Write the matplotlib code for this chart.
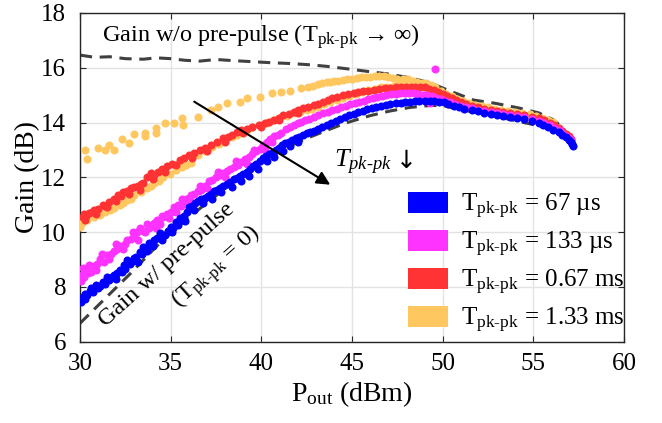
import matplotlib.pyplot as plt
from matplotlib.patches import Patch

plt.rcParams['font.family'] = ['Liberation Serif', 'DejaVu Serif']
plt.rcParams['mathtext.fontset'] = 'custom'
plt.rcParams['mathtext.rm'] = 'Liberation Serif'
plt.rcParams['mathtext.it'] = 'Liberation Serif:italic'
plt.rcParams['mathtext.bf'] = 'Liberation Serif:bold'

# --- gain without pre-pulse (upper dashed) ---
p_nopre = [30.0, 30.8, 31.65, 32.5, 33.5, 34.2, 35.0, 35.8, 36.6, 37.5, 38.4, 39.5,
           40.6, 41.7, 42.8, 43.6, 44.6, 45.8, 47.0, 48.2, 49.3, 50.4, 51.7, 52.9,
           54.2, 55.3, 56.1, 56.6, 57.0, 57.2]
g_nopre = [16.46, 16.38, 16.40, 16.33, 16.31, 16.36, 16.33, 16.27, 16.24, 16.30, 16.26, 16.22,
           16.18, 16.15, 16.10, 16.05, 15.97, 15.87, 15.77, 15.63, 15.45, 15.15, 14.82, 14.70,
           14.53, 14.35, 14.10, 13.82, 13.45, 13.20]

# --- gain with pre-pulse (lower dashed) ---
p_pre = [30.0, 31.3, 32.8, 34.2, 35.7, 37.2, 38.6, 39.9, 41.4, 42.8, 44.6, 46.0,
         47.1, 48.2, 49.3, 50.0, 51.0, 52.1, 53.3, 54.6, 55.8, 56.5, 56.9, 57.1]
g_pre = [6.67, 7.52, 8.50, 9.47, 10.38, 11.17, 11.90, 12.50, 13.10, 13.50, 13.97, 14.25,
         14.42, 14.55, 14.62, 14.62, 14.46, 14.35, 14.17, 13.98, 13.82, 13.64, 13.36, 13.15]

# --- measured points, Tpk-pk = 67 us ---
p_67us = [30.05, 30.1, 30.16, 30.3, 30.4, 30.55, 30.7, 30.9, 31.0, 31.25, 31.4, 31.6,
          31.75, 31.9, 32.05, 32.2, 32.3, 32.45, 32.6, 32.75, 32.9, 33.1, 33.3, 33.4,
          33.5, 33.65, 33.8, 33.95, 34.1, 34.25, 34.4, 34.55, 34.7, 34.85, 35.0, 35.15,
          35.3, 35.5, 35.6, 35.75, 35.9, 36.0, 36.2, 36.35, 36.5, 36.7, 36.9, 37.05,
          37.2, 37.4, 37.55, 37.7, 37.9, 38.1, 38.3, 38.5, 38.65, 38.8, 39.0, 39.2,
          39.4, 39.55, 39.7, 39.9, 40.1, 40.25, 40.45, 40.6, 40.8, 41.0, 41.15, 41.3,
          41.5, 41.7, 41.9, 42.1, 42.3, 42.5, 42.7, 42.9, 43.1, 43.35, 43.6, 43.85,
          44.1, 44.35, 44.6, 44.85, 45.1, 45.35, 45.6, 45.85, 46.1, 46.35, 46.6, 46.85,
          47.1, 47.4, 47.7, 47.95, 48.2, 48.45, 48.7, 49.0, 49.3, 49.55, 49.8, 50.05,
          50.3, 50.6, 50.9, 51.2, 51.6, 51.95, 52.3, 52.65, 53.0, 53.35, 53.7, 54.1,
          54.5, 54.9, 55.3, 55.55, 55.8, 56.1, 56.4, 56.6, 56.8, 56.95, 57.05, 57.15,
          57.2,
          30.3, 30.6, 31.1, 31.5, 32.0, 32.5, 33.0, 33.2, 33.7, 34.0, 34.5, 35.1,
          35.4, 35.8, 36.3, 36.8, 37.3, 37.8, 38.4, 38.9, 39.3, 39.8, 40.3, 40.7,
          41.2, 41.6, 42.0]
g_67us = [7.44, 7.55, 7.62, 7.75, 7.69, 7.85, 7.80, 8.06, 7.95, 8.17, 8.10, 8.24,
          8.35, 8.42, 8.50, 8.60, 8.55, 8.79, 8.97, 8.85, 8.95, 9.10, 9.27, 9.20,
          9.45, 9.40, 9.60, 9.55, 9.71, 9.80, 9.96, 9.85, 9.89, 10.05, 10.19, 10.15,
          10.36, 10.53, 10.45, 10.60, 10.75, 10.90, 10.95, 11.05, 11.15, 11.20, 11.25, 11.30,
          11.40, 11.50, 11.55, 11.60, 11.70, 11.75, 11.82, 11.92, 11.98, 12.05, 12.12, 12.20,
          12.32, 12.40, 12.48, 12.60, 12.72, 12.78, 12.85, 12.90, 13.00, 13.08, 13.18, 13.25,
          13.30, 13.36, 13.42, 13.48, 13.55, 13.60, 13.64, 13.70, 13.76, 13.84, 13.92, 14.00,
          14.06, 14.12, 14.19, 14.26, 14.32, 14.38, 14.43, 14.48, 14.53, 14.57, 14.60, 14.64,
          14.67, 14.70, 14.72, 14.74, 14.76, 14.77, 14.78, 14.79, 14.79, 14.78, 14.76, 14.73,
          14.68, 14.62, 14.56, 14.51, 14.46, 14.41, 14.36, 14.32, 14.28, 14.24, 14.20, 14.16,
          14.12, 14.05, 13.97, 13.90, 13.83, 13.74, 13.64, 13.55, 13.46, 13.37, 13.28, 13.20,
          13.15,
          7.55, 7.95, 8.05, 8.35, 8.30, 8.65, 9.05, 8.90, 9.30, 9.50, 9.70, 10.00,
          10.25, 10.40, 10.80, 11.05, 11.20, 11.45, 11.65, 11.85, 12.05, 12.30, 12.60, 12.75,
          12.95, 13.15, 13.30]

# --- measured points, Tpk-pk = 133 us ---
p_133us = [30.05, 30.1, 30.2, 30.3, 30.45, 30.6, 30.8, 30.95, 31.1, 31.3, 31.5, 31.7,
           31.9, 32.05, 32.2, 32.4, 32.6, 32.8, 33.0, 33.15, 33.3, 33.45, 33.6, 33.8,
           33.95, 34.1, 34.25, 34.4, 34.6, 34.8, 35.0, 35.2, 35.4, 35.55, 35.7, 35.85,
           36.0, 36.15, 36.3, 36.5, 36.7, 36.9, 37.1, 37.3, 37.5, 37.7, 37.9, 38.1,
           38.3, 38.5, 38.7, 38.9, 39.1, 39.3, 39.5, 39.7, 39.9, 40.1, 40.3, 40.5,
           40.7, 40.9, 41.1, 41.35, 41.6, 41.8, 42.0, 42.2, 42.4, 42.65, 42.9, 43.15,
           43.4, 43.65, 43.9, 44.15, 44.4, 44.65, 44.9, 45.15, 45.4, 45.65, 45.9, 46.15,
           46.4, 46.65, 46.9, 47.15, 47.4, 47.65, 47.9, 48.15, 48.4, 48.65, 48.9, 49.15,
           49.4, 49.65, 49.9, 50.15, 50.4, 50.7, 51.0, 51.3, 51.6, 51.95, 52.3, 52.65,
           53.0, 53.35, 53.7, 54.1, 54.5, 54.9, 55.3, 55.6, 55.9, 56.15, 56.4, 56.6,
           56.8, 56.95, 57.1, 49.6, 49.3,
           30.15, 30.5, 30.9, 31.2, 31.6, 32.0, 32.5, 32.9, 33.2, 33.7, 34.2, 34.5,
           34.9, 35.3, 35.6, 36.1, 36.6, 37.0, 37.6, 38.0, 38.6, 39.2, 39.6, 40.2,
           40.6]
g_133us = [8.20, 8.45, 8.35, 8.60, 8.50, 8.55, 8.75, 8.85, 9.00, 8.90, 9.15, 9.20,
           9.30, 9.40, 9.50, 9.40, 9.70, 9.75, 9.85, 10.00, 10.15, 10.05, 10.00, 10.15,
           10.25, 10.35, 10.45, 10.30, 10.55, 10.65, 10.75, 10.90, 11.00, 10.95, 11.10, 11.20,
           11.25, 11.35, 11.40, 11.50, 11.55, 11.70, 11.85, 11.90, 12.00, 12.08, 12.15, 12.22,
           12.30, 12.38, 12.45, 12.55, 12.65, 12.75, 12.85, 12.95, 13.05, 13.18, 13.30, 13.40,
           13.50, 13.56, 13.62, 13.75, 13.85, 13.92, 13.98, 14.03, 14.08, 14.14, 14.20, 14.27,
           14.33, 14.40, 14.45, 14.50, 14.55, 14.61, 14.66, 14.71, 14.75, 14.80, 14.85, 14.89,
           14.93, 14.97, 15.00, 15.03, 15.05, 15.07, 15.08, 15.08, 15.07, 15.05, 15.02, 14.99,
           14.95, 14.90, 14.85, 14.80, 14.75, 14.68, 14.62, 14.57, 14.52, 14.47, 14.43, 14.39,
           14.35, 14.31, 14.28, 14.24, 14.20, 14.13, 14.06, 13.98, 13.90, 13.81, 13.72, 13.62,
           13.52, 13.43, 13.35, 15.95, 14.70,
           8.70, 8.80, 8.60, 9.20, 9.00, 9.55, 9.55, 10.00, 9.70, 10.30, 10.15, 10.60,
           10.50, 10.75, 11.20, 11.10, 11.70, 11.60, 12.20, 12.00, 12.60, 12.50, 13.00, 13.00,
           13.30]

# --- measured points, Tpk-pk = 0.67 ms ---
p_067ms = [30.15, 30.2, 30.35, 30.5, 30.65, 30.8, 31.0, 31.25, 31.4, 31.6, 31.85, 32.1,
           32.25, 32.4, 32.6, 32.8, 33.0, 33.2, 33.35, 33.5, 33.7, 33.9, 34.1, 34.3,
           34.55, 34.8, 35.1, 35.5, 35.75, 36.0, 36.3, 36.6, 36.9, 37.2, 37.55, 37.9,
           38.15, 38.4, 38.65, 38.9, 39.2, 39.5, 39.85, 40.2, 40.45, 40.7, 40.95, 41.2,
           41.5, 41.8, 42.05, 42.3, 42.6, 42.9, 43.15, 43.4, 43.65, 43.9, 44.2, 44.5,
           44.8, 45.1, 45.35, 45.6, 45.9, 46.2, 46.5, 46.8, 47.1, 47.4, 47.7, 48.0,
           48.25, 48.5, 48.75, 49.0, 49.25, 49.5, 49.75, 50.0, 50.25, 50.5, 50.75, 51.0,
           51.3, 51.6, 51.95, 52.3, 52.65, 53.0, 53.35, 53.7, 54.1, 54.5, 54.9, 55.3,
           55.6, 55.9, 56.15, 56.4, 56.6, 56.8, 56.95, 57.1,
           30.3, 30.9, 31.5, 32.0, 32.7, 33.3, 34.0, 34.7, 35.3, 36.2, 37.0, 38.0,
           39.0, 40.0, 41.0, 42.0]
g_067ms = [10.55, 10.65, 10.60, 10.70, 10.75, 10.80, 10.85, 10.98, 10.95, 11.09, 11.20, 11.34,
           11.30, 11.45, 11.50, 11.60, 11.65, 11.70, 11.75, 11.80, 12.00, 12.14, 12.10, 12.20,
           12.30, 12.40, 12.50, 12.62, 12.70, 12.80, 12.90, 13.00, 13.08, 13.17, 13.30, 13.42,
           13.48, 13.55, 13.64, 13.72, 13.78, 13.83, 13.90, 13.97, 14.02, 14.08, 14.17, 14.26,
           14.32, 14.37, 14.45, 14.52, 14.58, 14.63, 14.69, 14.75, 14.82, 14.88, 14.94, 15.00,
           15.04, 15.08, 15.11, 15.14, 15.16, 15.18, 15.22, 15.25, 15.27, 15.29, 15.29, 15.29,
           15.29, 15.29, 15.29, 15.28, 15.24, 15.20, 15.12, 15.05, 14.97, 14.90, 14.82, 14.75,
           14.67, 14.60, 14.55, 14.50, 14.46, 14.43, 14.39, 14.35, 14.31, 14.27, 14.21, 14.15,
           14.08, 14.00, 13.90, 13.80, 13.69, 13.58, 13.49, 13.40,
           10.45, 10.65, 10.90, 11.15, 11.40, 11.55, 11.95, 12.20, 12.45, 12.70, 12.95, 13.30,
           13.60, 13.85, 14.10, 14.35]

# --- measured points, Tpk-pk = 1.33 ms (upper branch, then lower branch) ---
p_133ms = [30.27, 30.4, 31.0, 31.4, 31.6, 31.9, 32.3, 32.7, 33.0, 33.6, 33.6, 34.2,
           34.2, 34.7, 35.2, 35.6, 35.7, 36.5, 37.2, 37.6, 38.1, 38.8, 39.2, 39.9,
           40.6, 41.1, 41.6, 42.2, 42.6, 42.85, 43.1, 43.35, 43.6, 43.8, 44.0, 44.25,
           44.5, 44.75, 45.0, 45.25, 45.5, 45.75, 46.0, 46.25, 46.5, 46.75, 47.0, 47.25,
           47.5, 47.8, 48.1, 48.35, 48.6, 48.85, 49.1, 49.35, 49.6,
           30.0, 30.1, 30.4, 30.8, 31.1, 31.4, 31.65, 31.9, 32.2, 32.4, 32.6, 32.8,
           33.0, 33.35, 33.7, 33.9, 34.1, 34.35, 34.6, 34.95, 35.3, 35.6, 35.85, 36.1,
           36.2, 36.5, 36.9, 37.3, 37.65, 38.0, 38.4, 38.65, 38.9, 39.2, 39.5, 39.9,
           40.3, 40.65, 41.0, 41.4, 41.8, 42.15, 42.5, 42.8, 43.1, 43.45, 43.8, 44.15,
           44.5, 44.85, 45.2, 45.55, 45.9, 46.25, 46.6, 46.95, 47.3, 47.65, 48.0, 48.35,
           48.7, 49.0, 49.3, 49.6, 49.9, 50.2, 50.5, 50.8, 51.1, 51.45, 51.8, 52.15,
           52.5, 52.85, 53.2, 53.6, 54.0, 54.4, 54.8, 55.15, 55.5, 55.8, 56.1]
g_133ms = [12.99, 12.66, 13.06, 13.00, 13.17, 12.99, 13.39, 13.24, 13.57, 13.60, 13.50, 13.80,
           13.60, 13.97, 14.00, 14.15, 13.90, 14.20, 14.45, 14.56, 14.70, 14.74, 14.89, 14.93,
           15.07, 15.10, 15.14, 15.25, 15.29, 15.35, 15.40, 15.44, 15.47, 15.48, 15.50, 15.52,
           15.54, 15.57, 15.60, 15.62, 15.65, 15.66, 15.65, 15.68, 15.70, 15.68, 15.65, 15.63,
           15.60, 15.60, 15.58, 15.52, 15.47, 15.45, 15.43, 15.36, 15.29,
           10.20, 10.35, 10.45, 10.54, 10.62, 10.72, 10.80, 10.87, 10.98, 11.05, 11.16, 11.22,
           11.34, 11.45, 11.60, 11.68, 11.80, 11.88, 12.00, 12.12, 12.25, 12.36, 12.45, 12.54,
           12.73, 12.80, 12.95, 13.10, 13.22, 13.35, 13.46, 13.55, 13.64, 13.73, 13.83, 13.92,
           14.00, 14.08, 14.15, 14.25, 14.33, 14.40, 14.45, 14.50, 14.56, 14.66, 14.75, 14.83,
           14.90, 14.98, 15.05, 15.13, 15.20, 15.24, 15.28, 15.31, 15.33, 15.34, 15.35, 15.34,
           15.33, 15.32, 15.30, 15.23, 15.15, 15.05, 14.95, 14.87, 14.80, 14.72, 14.65, 14.60,
           14.55, 14.51, 14.47, 14.42, 14.38, 14.34, 14.30, 14.24, 14.18, 14.10, 14.02]

labels = [r'T$_{\mathrm{pk\text{-}pk}}$ = 67 µs',
          r'T$_{\mathrm{pk\text{-}pk}}$ = 133 µs',
          r'T$_{\mathrm{pk\text{-}pk}}$ = 0.67 ms',
          r'T$_{\mathrm{pk\text{-}pk}}$ = 1.33 ms']
colors = ['#0000ff', '#ff33ff', '#ff3333', '#ffc760']

fig = plt.figure(figsize=(6.62, 4.23), dpi=100)
ax = fig.add_axes([0.1208, 0.1922, 0.8218, 0.7773])

ax.plot(p_nopre, g_nopre, '--', color='#404040', lw=2.2, dashes=(4, 2.5), zorder=2)
ax.plot(p_pre, g_pre, '--', color='#404040', lw=2.2, dashes=(4, 2.5), zorder=2)

# drawing order: slowest repetition first, 67 us on top
ax.plot(p_133ms, g_133ms, 'o', color=colors[3], ms=5.8, mew=0, zorder=3)
ax.plot(p_067ms, g_067ms, 'o', color=colors[2], ms=5.8, mew=0, zorder=3)
ax.plot(p_133us, g_133us, 'o', color=colors[1], ms=5.8, mew=0, zorder=3)
ax.plot(p_67us, g_67us, 'o', color=colors[0], ms=5.8, mew=0, zorder=3)

ax.set_xlim(30, 60)
ax.set_ylim(6, 18)
ax.set_xticks([30, 35, 40, 45, 50, 55, 60])
ax.set_yticks([6, 8, 10, 12, 14, 16, 18])
ax.grid(True, color='#e3e3e3', lw=1)
ax.set_axisbelow(True)
ax.tick_params(direction='in', length=4, labelsize=18, top=True, right=True,
               color='#262626')
ax.tick_params(axis='x', pad=8)
ax.tick_params(axis='y', pad=10)
for s in ax.spines.values():
    s.set_color('#262626')
    s.set_linewidth(1)

ax.set_xlabel(r'P$_{\mathrm{out}}$ (dBm)', fontsize=20, labelpad=3)
ax.set_ylabel('Gain (dB)', fontsize=20, labelpad=1)

ax.text(31.2, 17.15, r'Gain w/o pre-pulse (T$_{\mathrm{pk\text{-}pk}}$ → ∞)',
        fontsize=17.5, ha='left', va='center')
ax.text(34.8, 8.8, 'Gain w/ pre-pulse', fontsize=17.5, rotation=42,
        rotation_mode='anchor', ha='center', va='center')
ax.text(37.5, 8.7, r'(T$_{\mathrm{pk\text{-}pk}}$ = 0)', fontsize=17.5, rotation=42,
        rotation_mode='anchor', ha='center', va='center')

ax.annotate('', xy=(43.8, 11.73), xytext=(36.3, 14.76),
            arrowprops=dict(arrowstyle='-|>', color='black', lw=1.5,
                            mutation_scale=20, shrinkA=0, shrinkB=0))
ax.text(44.0, 12.55, r'$T_{pk\text{-}pk}$', fontsize=19, ha='left', va='center')
ax.text(48.0, 12.6, '↓', fontsize=18, ha='center', va='center',
        family=['DejaVu Sans'])

handles = [Patch(facecolor=c, edgecolor='none') for c in colors]
ax.legend(handles, labels, loc='lower left', bbox_to_anchor=(0.585, -0.01),
          frameon=False, fontsize=18, handlelength=1.6, handleheight=0.9,
          handletextpad=0.5, labelspacing=0.36, borderaxespad=0)

fig.savefig('out.png', dpi=100)
